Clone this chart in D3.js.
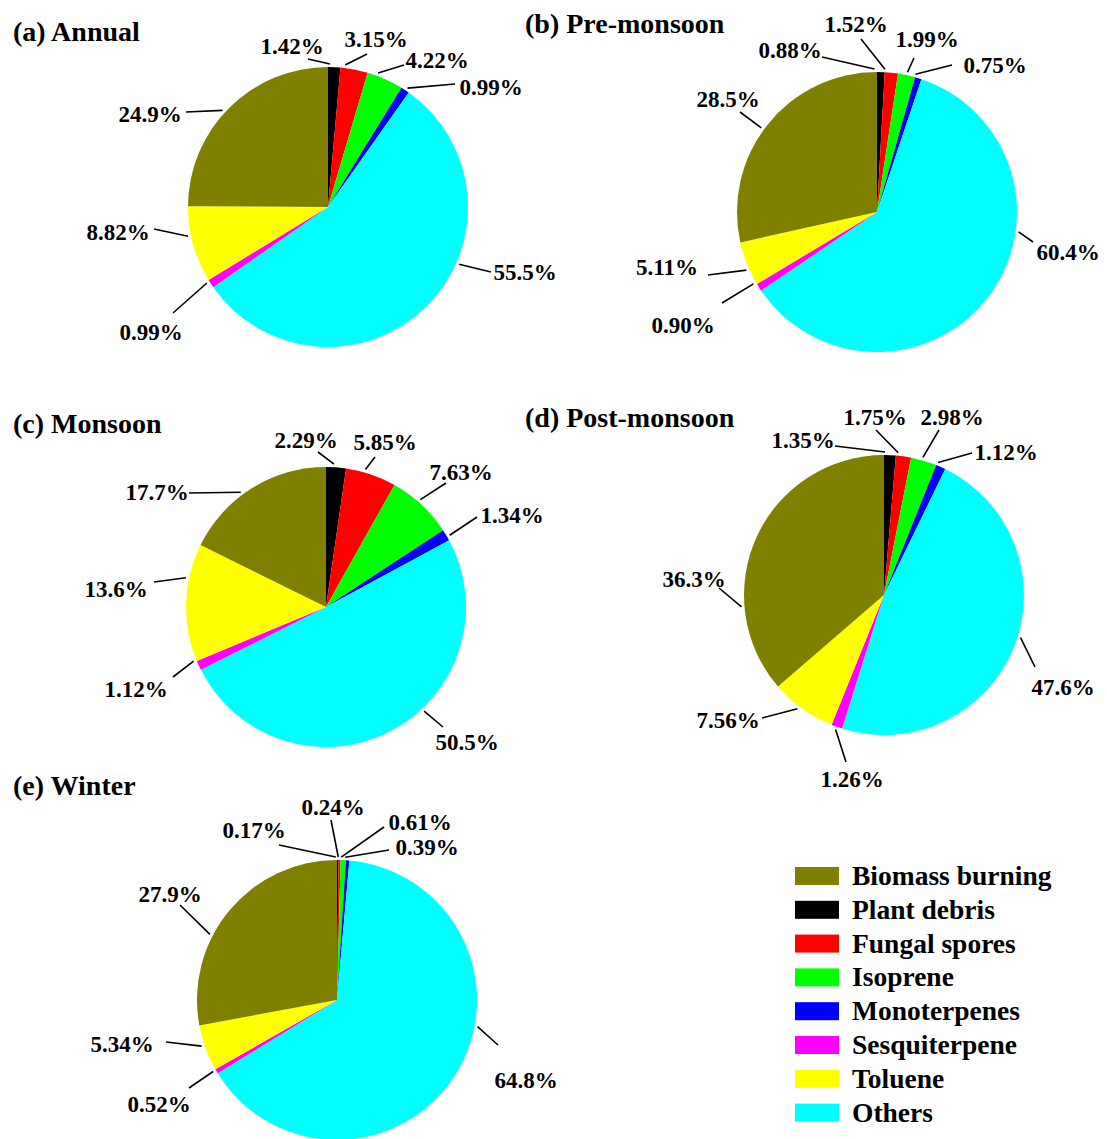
<!DOCTYPE html>
<html>
<head>
<meta charset="utf-8">
<title>SOA source pies</title>
<style>
  body { margin: 0; background: #ffffff; }
  svg text { font-family: "Liberation Serif", "Times New Roman", serif; font-weight: bold; fill: #000; }
  .leader { stroke: #000; stroke-width: 1.6px; fill: none; }
</style>
</head>
<body>
<svg width="1107" height="1139"></svg>
<script src="https://d3js.org/d3.v7.min.js"></script>
<script>

// slice order, clockwise from 12 o'clock
var categories = ["Plant debris", "Fungal spores", "Isoprene", "Monoterpenes",
                  "Others", "Sesquiterpene", "Toluene", "Biomass burning"];
var colors = ["#000000", "#ff0000", "#00ff00", "#0000ff",
              "#00ffff", "#ff00ff", "#ffff00", "#808000"];
var legendOrder = ["Biomass burning", "Plant debris", "Fungal spores", "Isoprene",
                   "Monoterpenes", "Sesquiterpene", "Toluene", "Others"];

var panelTitles = ["(a) Annual", "(b) Pre-monsoon", "(c) Monsoon", "(d) Post-monsoon", "(e) Winter"];

// percent contributions, same order as categories
var annual      = [1.42, 3.15, 4.22, 0.99, 55.5, 0.99, 8.82, 24.9];
var preMonsoon  = [0.88, 1.52, 1.99, 0.75, 60.4, 0.90, 5.11, 28.5];
var monsoon     = [2.29, 5.85, 7.63, 1.34, 50.5, 1.12, 13.6, 17.7];
var postMonsoon = [1.35, 1.75, 2.98, 1.12, 47.6, 1.26, 7.56, 36.3];
var winter      = [0.17, 0.24, 0.61, 0.39, 64.8, 0.52, 5.34, 27.9];

var seasons = [annual, preMonsoon, monsoon, postMonsoon, winter];

// layout: pie centres, title positions
var radius = 140;
var centers = [[328, 207], [877, 212], [326, 607], [884, 595], [337, 1000]];
var titlePos = [[13, 41], [525, 33], [13, 433], [525, 427], [13, 795]];

// label placement per slice: [leader angle (deg), leader end dx, dy, text dx, baseline dy]
var labelLayout = [
  [[0.8, -20, -148, -36, -153], [6.9, 39, -153, 48, -160], [20.5, 76, -142, 109, -139], [33.8, 127, -123, 163, -112],
   [113.6, 163, 65, 197, 73], [237.9, -155, 106, -177, 133], [258.2, -174, 22, -210, 33], [312.5, -142, -95, -178, -85]],
  [[-1, -55, -155, -87, -154], [3.2, -16, -173, -21, -180], [12.3, 37, -154, 50, -165], [15.6, 75, -147, 118, -139],
   [98, 156, 30, 191, 48], [239.8, -155, 91, -194, 121], [246, -169, 63, -210, 63], [306, -137, -100, -149, -105]],
  [[3.2, -8, -155, -20, -159], [16, 49, -150, 59, -157], [41.3, 120, -124, 135, -127], [59.9, 151, -90, 186, -84],
   [136.7, 117, 120, 141, 143], [247.8, -153, 70, -190, 90], [281.8, -172, -25, -210, -10], [323.4, -137, -114, -169, -107]],
  [[0.4, -49, -149, -81, -147], [5.7, -8, -165, -9, -170], [15.8, 55, -165, 68, -170], [22.2, 88, -142, 122, -135],
   [107.3, 151, 72, 179, 100], [199.8, -38, 167, -32, 192], [217.3, -122, 123, -156, 133], [265.2, -165, -7, -190, -8]],
  [[-0.5, -58, -155, -83, -162], [0.5, -6, -180, -4, -185], [1.7, 47, -173, 83, -170], [3.3, 52, -150, 90, -145],
   [100.7, 161, 45, 189, 88], [240, -148, 88, -178, 112], [251.2, -171, 42, -215, 52], [297.3, -157, -95, -167, -98]]
];

var svg = d3.select("svg");

svg.append("rect")
    .attr("width", 1107)
    .attr("height", 1139)
    .attr("fill", "#ffffff");

var color = d3.scaleOrdinal().domain(categories).range(colors);

var pie = d3.pie()
    .sort(null)
    .value(function(d) { return d.value; });

var arc = d3.arc()
    .innerRadius(0)
    .outerRadius(radius);

function fmt(v) {
  return (v < 10 ? v.toFixed(2) : v.toFixed(1)) + "%";
}

seasons.forEach(function(vals, p) {
  var rows = vals.map(function(v, i) { return {name: categories[i], value: v}; });
  var c = centers[p];

  svg.append("text")
      .attr("x", titlePos[p][0])
      .attr("y", titlePos[p][1])
      .style("font-size", "28px")
      .text(panelTitles[p]);

  var g = svg.append("g")
      .attr("transform", "translate(" + c[0] + "," + c[1] + ")");

  g.selectAll("path")
    .data(pie(rows))
    .enter().append("path")
      .attr("d", arc)
      .attr("fill", function(d) { return color(d.data.name); });

  var lab = g.selectAll("g.lab")
    .data(pie(rows))
    .enter().append("g")
      .attr("class", "lab");

  lab.append("line")
      .attr("class", "leader")
      .attr("x1", function(d, i) { return (radius + 3) * Math.sin(labelLayout[p][i][0] * Math.PI / 180); })
      .attr("y1", function(d, i) { return -(radius + 3) * Math.cos(labelLayout[p][i][0] * Math.PI / 180); })
      .attr("x2", function(d, i) { return labelLayout[p][i][1]; })
      .attr("y2", function(d, i) { return labelLayout[p][i][2]; });

  lab.append("text")
      .attr("x", function(d, i) { return labelLayout[p][i][3]; })
      .attr("y", function(d, i) { return labelLayout[p][i][4]; })
      .attr("text-anchor", "middle")
      .style("font-size", "23px")
      .text(function(d) { return fmt(d.data.value); });
});

// legend
var legend = svg.append("g")
    .attr("transform", "translate(795,867)");

var item = legend.selectAll("g")
  .data(legendOrder)
  .enter().append("g")
    .attr("transform", function(d, i) { return "translate(0," + (i * 33.8) + ")"; });

item.append("rect")
    .attr("width", 44)
    .attr("height", 18)
    .attr("fill", function(d) { return color(d); });

item.append("text")
    .attr("x", 57)
    .attr("y", 18)
    .style("font-size", "27.5px")
    .text(function(d) { return d; });

</script>
</body>
</html>
